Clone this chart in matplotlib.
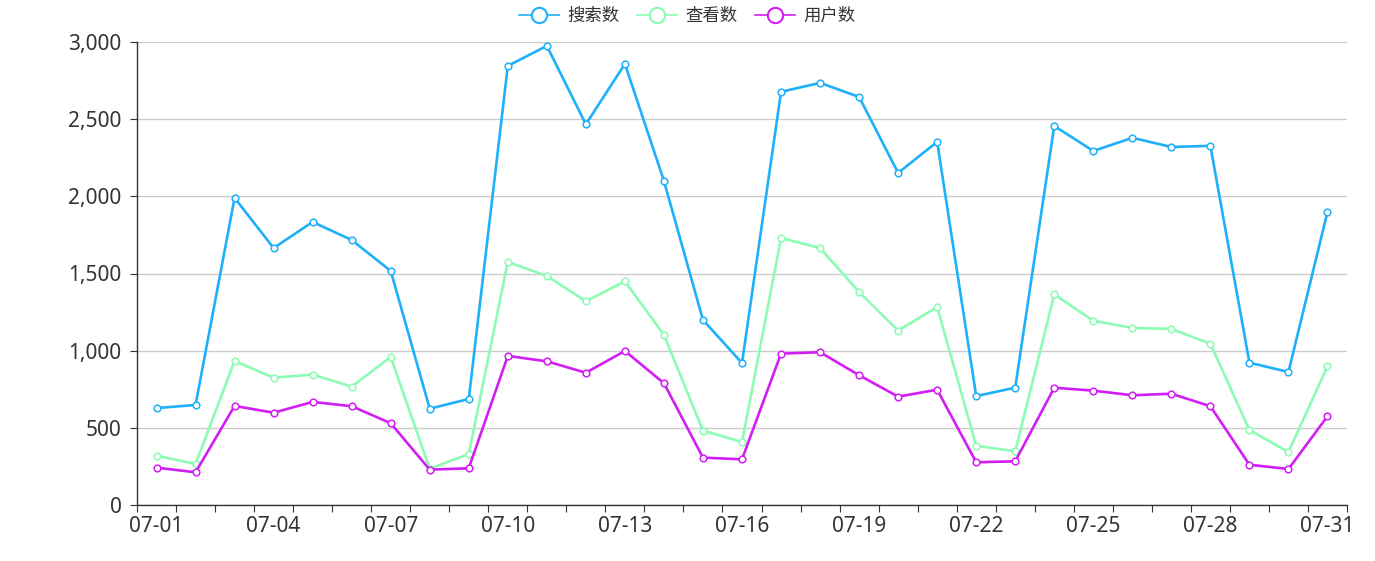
import matplotlib
matplotlib.use('Agg')
import matplotlib.pyplot as plt
from matplotlib.lines import Line2D
from matplotlib.ticker import FuncFormatter, FixedLocator

plt.rcParams['font.family'] = ['Noto Sans', 'Noto Sans CJK SC', 'DejaVu Sans']

# data
dates = ['07-%02d' % d for d in range(1, 32)]
search = [628, 648, 1990, 1665, 1834, 1717, 1517, 624, 687, 2845,
          2975, 2467, 2858, 2100, 1199, 920, 2677, 2735, 2644, 2152,
          2353, 706, 760, 2456, 2294, 2379, 2320, 2327, 922, 862, 1899]
views = [320, 266, 933, 825, 845, 767, 959, 235, 330, 1575,
         1484, 1320, 1450, 1102, 482, 408, 1730, 1665, 1380, 1130,
         1283, 384, 348, 1365, 1194, 1147, 1141, 1045, 486, 343, 899]
users = [242, 212, 642, 598, 668, 640, 530, 229, 238, 966,
         931, 857, 998, 789, 307, 296, 981, 990, 841, 702,
         747, 277, 283, 760, 741, 711, 721, 640, 261, 233, 575]
series_names = ['搜索数', '查看数', '用户数']
colors = ['#1eb0fa', '#8cfcb4', '#d21ef5']

fig = plt.figure(figsize=(13.75, 5.61), dpi=100)
ax = fig.add_axes([137/1375, 1-505/561, 1210/1375, 463/561])

x = list(range(len(dates)))
for vals, name, c in zip([search, views, users], series_names, colors):
    ax.plot(x, vals, color=c, lw=1.9, marker='o', ms=4.8, mfc='white',
            mec=c, mew=1.1, label=name, zorder=3)

ax.set_xlim(-0.5, len(dates) - 0.5)
ax.set_ylim(0, 3000)
ax.set_yticks(range(0, 3001, 500))
ax.yaxis.set_major_formatter(FuncFormatter(lambda v, p: f'{int(v):,}'))
ax.grid(axis='y', color='#cccccc', lw=1)
ax.set_axisbelow(True)

# ticks at category boundaries, labels every third category
ax.xaxis.set_major_locator(FixedLocator([i - 0.5 for i in range(len(dates) + 1)]))
ax.set_xticklabels([])
ax.xaxis.set_minor_locator(FixedLocator(x[::3]))
ax.set_xticklabels(dates[::3], minor=True)
ax.tick_params(axis='x', which='minor', length=0, pad=8)
ax.tick_params(axis='x', which='major', length=5, color='#333333')
ax.tick_params(axis='y', length=5, color='#333333', pad=6)
ax.tick_params(which='both', labelsize=15, labelcolor='#333333')

for s in ['top', 'right']:
    ax.spines[s].set_visible(False)
for s in ['left', 'bottom']:
    ax.spines[s].set_color('#333333')
    ax.spines[s].set_linewidth(1)

handles = [Line2D([], [], color=c, lw=1.2, marker='o', ms=11, mfc='white', mec=c, mew=1.5)
           for c in colors]
fig.legend(handles, series_names, loc='upper center', bbox_to_anchor=(0.5, 1.016), ncol=3,
           frameon=False, prop={'family': ['Noto Sans CJK SC'], 'size': 12.5},
           handlelength=2.3, columnspacing=1.0, handletextpad=0.5, labelcolor='#333333')

fig.savefig('out.png', dpi=100)
